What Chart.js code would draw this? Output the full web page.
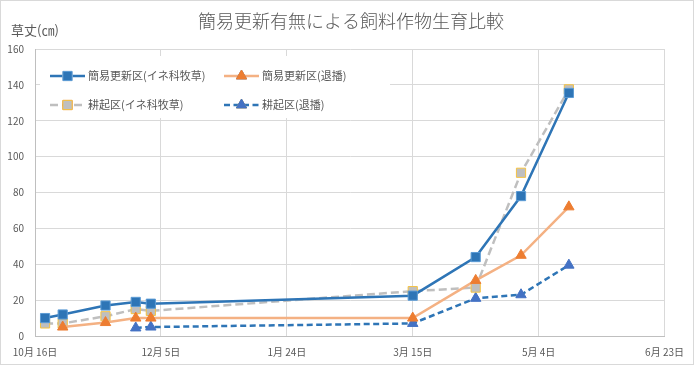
<!DOCTYPE html>
<html>
<head>
<meta charset="utf-8">
<script src="https://cdn.jsdelivr.net/npm/chart.js@4/dist/chart.umd.min.js"></script>
<style>
  html, body { margin: 0; padding: 0; background: #fff; }
  #wrap { width: 694px; height: 365px; }
</style>
</head>
<body>
<div id="wrap"><canvas id="graph" width="694" height="365"></canvas></div>
<script>
var dates = ["2018-10-20", "2018-10-27", "2018-11-13", "2018-11-25", "2018-12-01",
             "2019-03-15", "2019-04-09", "2019-04-27", "2019-05-16"];
var kanniIne  = [10, 12, 17, 19, 18, 22.5, 44, 78, 135.5];   // 簡易更新区(イネ科牧草)
var kanniTai  = [null, 5, 7.5, 10, 10, 10, 31, 45, 72];       // 簡易更新区(退播)
var kokiIne   = [7, 7, 11, 15, 14, 25, 27, 91, 137.5];        // 耕起区(イネ科牧草)
var kokiTai   = [null, null, null, 4.5, 5, 7, 21, 23, 39.5];  // 耕起区(退播)
var seriesNames = ["簡易更新区(イネ科牧草)", "簡易更新区(退播)", "耕起区(イネ科牧草)", "耕起区(退播)"];
var xTicks = [0, 50, 100, 150, 200, 250]; // jours depuis le 16 oct.
var yTicks = [0, 20, 40, 60, 80, 100, 120, 140, 160];

var start = new Date(2018, 9, 16);
function jour(s) {
    var p = s.split("-");
    var d = new Date(+p[0], +p[1] - 1, +p[2]);
    return Math.round((d - start) / 86400000);
}
function pts(vals) {
    return vals.map(function (v, i) { return { x: jour(dates[i]), y: v }; });
}
function dateLabel(n) {
    var d = new Date(start.getTime() + n * 86400000);
    return (d.getMonth() + 1) + "月 " + d.getDate() + "日";
}

var police = "'Noto Sans CJK JP', 'Noto Sans', sans-serif";

// legende + titres dessines a la main
var decor = {
    id: 'decor',
    beforeDraw: function (chart) {
        var ctx = chart.ctx;
        ctx.save();
        ctx.fillStyle = '#fff';
        ctx.fillRect(0, 0, chart.width, chart.height);
        ctx.restore();
    },
    afterDraw: function (chart) {
        var ctx = chart.ctx;
        ctx.save();
        ctx.strokeStyle = '#d9d9d9';
        ctx.lineWidth = 1;
        ctx.strokeRect(0.5, 0.5, chart.width - 1, chart.height - 1);

        ctx.fillStyle = '#595959';
        ctx.textBaseline = 'middle';
        ctx.textAlign = 'center';
        ctx.font = "300 18px " + police;
        ctx.fillText("簡易更新有無による飼料作物生育比較", 351, 21);
        ctx.textAlign = 'left';
        ctx.font = "13px " + police;
        ctx.fillText("草丈(㎝)", 11, 30);

        // boite de legende
        ctx.fillStyle = '#fff';
        ctx.fillRect(40, 56, 350, 62);
        var pos = [[50, 76], [224, 76], [50, 105], [224, 105]];
        chart.data.datasets.forEach(function (ds, i) {
            var x = pos[i][0], y = pos[i][1];
            ctx.save();
            ctx.strokeStyle = ds.borderColor;
            ctx.lineWidth = ds.borderWidth;
            ctx.setLineDash(ds.borderDash || []);
            ctx.beginPath();
            ctx.moveTo(x, y);
            ctx.lineTo(x + 35, y);
            ctx.stroke();
            ctx.restore();
            Chart.helpers.drawPoint(ctx, {
                pointStyle: ds.pointStyle, radius: ds.pointRadius,
                borderWidth: ds.pointBorderWidth, rotation: 0
            }, x + 17.5, y);
            ctx.fillStyle = ds.pointBackgroundColor;
            ctx.strokeStyle = ds.pointBorderColor;
            ctx.lineWidth = ds.pointBorderWidth;
            ctx.fill();
            ctx.stroke();
            ctx.fillStyle = '#595959';
            ctx.font = "11px " + police;
            ctx.textAlign = 'left';
            ctx.fillText(ds.label, x + 38, y);
        });
        ctx.restore();
    }
};

new Chart(document.getElementById("graph"), {
    type: 'line',
    data: {
        datasets: [{
            label: seriesNames[0],
            data: pts(kanniIne),
            borderColor: '#2e75b6',
            borderWidth: 2.5,
            pointStyle: 'rect',
            pointRadius: 6.5,
            pointBackgroundColor: '#2e75b6',
            pointBorderColor: '#5b9bd5',
            pointBorderWidth: 1
        }, {
            label: seriesNames[1],
            data: pts(kanniTai),
            borderColor: '#f4b183',
            borderWidth: 2.5,
            pointStyle: 'triangle',
            pointRadius: 6,
            pointBackgroundColor: '#ed7d31',
            pointBorderColor: '#ed7d31',
            pointBorderWidth: 1
        }, {
            label: seriesNames[2],
            data: pts(kokiIne),
            borderColor: '#bfbfbf',
            borderWidth: 2.5,
            borderDash: [8, 4],
            pointStyle: 'rect',
            pointRadius: 6.5,
            pointBackgroundColor: '#bfbfbf',
            pointBorderColor: '#f5c242',
            pointBorderWidth: 1
        }, {
            label: seriesNames[3],
            data: pts(kokiTai),
            borderColor: '#2e75b6',
            borderWidth: 2.5,
            borderDash: [6, 3.5],
            pointStyle: 'triangle',
            pointRadius: 6,
            pointBackgroundColor: '#4472c4',
            pointBorderColor: '#4472c4',
            pointBorderWidth: 1
        }]
    },
    options: {
        responsive: false,
        animation: false,
        layout: { padding: { left: 0, right: 29, top: 49, bottom: 0 } },
        plugins: { legend: { display: false }, title: { display: false }, tooltip: { enabled: false } },
        scales: {
            x: {
                type: 'linear',
                min: xTicks[0], max: xTicks[xTicks.length - 1],
                afterBuildTicks: function (s) { s.ticks = xTicks.map(function (v) { return { value: v }; }); },
                afterFit: function (s) { s.height = 29; },
                grid: { color: '#d9d9d9', drawTicks: false },
                border: { color: '#bfbfbf', width: 1 },
                ticks: {
                    padding: 10, color: '#595959', maxRotation: 0, autoSkip: false,
                    font: { family: police, size: 10 },
                    callback: function (v) { return dateLabel(v); }
                }
            },
            y: {
                min: yTicks[0], max: yTicks[yTicks.length - 1],
                afterBuildTicks: function (s) { s.ticks = yTicks.map(function (v) { return { value: v }; }); },
                afterFit: function (s) { s.width = 35; },
                grid: { color: '#d9d9d9', drawTicks: false },
                border: { color: '#bfbfbf', width: 1 },
                ticks: { padding: 11, color: '#595959', font: { family: police, size: 10 } }
            }
        }
    },
    plugins: [decor]
});
</script>
</body>
</html>
